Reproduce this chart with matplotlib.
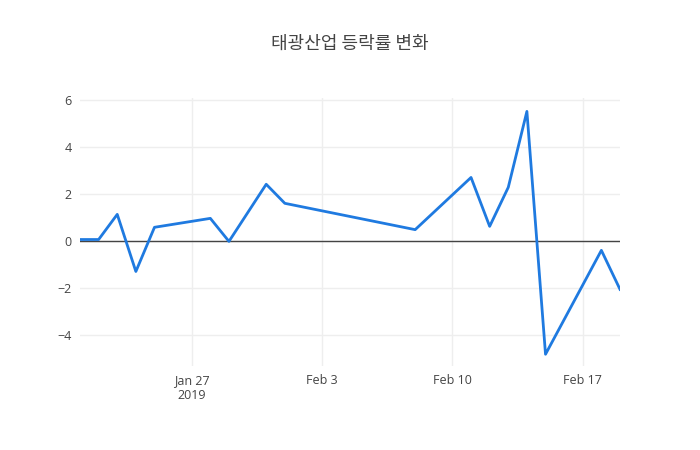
import matplotlib
matplotlib.use("Agg")
import matplotlib.pyplot as plt
import numpy as np

# daily change rate (%)
dates = ["2019-01-21", "2019-01-22", "2019-01-23", "2019-01-24", "2019-01-25",
         "2019-01-28", "2019-01-29", "2019-01-31", "2019-02-01", "2019-02-08",
         "2019-02-11", "2019-02-12", "2019-02-13", "2019-02-14", "2019-02-15",
         "2019-02-18", "2019-02-19"]
rates = [0.08, 0.08, 1.15, -1.28, 0.6, 0.98, 0.0, 2.43, 1.62, 0.5,
         2.72, 0.64, 2.3, 5.53, -4.8, -0.38, -2.04]
tick_dates = ["2019-01-27", "2019-02-03", "2019-02-10", "2019-02-17"]
tick_labels = ["Jan 27\n2019", "Feb 3", "Feb 10", "Feb 17"]
y_ticks = [-4, -2, 0, 2, 4, 6]

x = np.array(dates, dtype="datetime64[D]")
xt = np.array(tick_dates, dtype="datetime64[D]")

fig = plt.figure(figsize=(7, 4.5), dpi=100)
ax = fig.add_axes([80/700, 1-366/450, 540/700, 268/450])

ax.plot(x, rates, color="#1f7ae0", lw=2, zorder=3)
ax.axhline(0, color="#444444", lw=1, zorder=2)

ax.set_xlim(x[0], x[-1])
ax.set_ylim(-5.3, 6.1)
ax.set_xticks(xt)
ax.set_xticklabels(tick_labels)
ax.set_yticks(y_ticks)
ax.set_yticklabels(["\u22124", "\u22122", "0", "2", "4", "6"])
ax.grid(color="#eeeeee", lw=1, zorder=0)
for s in ax.spines.values():
    s.set_visible(False)
ax.tick_params(length=0, labelsize=9, colors="#444444", pad=6)
for lab in ax.get_xticklabels() + ax.get_yticklabels():
    lab.set_family("Open Sans")

fig.text(0.5, 1-44/450, "태광산업 등락률 변화", ha="center", va="center",
         fontsize=13, color="#444444", family=["Noto Sans CJK KR", "DejaVu Sans"])

fig.savefig("out.png", dpi=100)
